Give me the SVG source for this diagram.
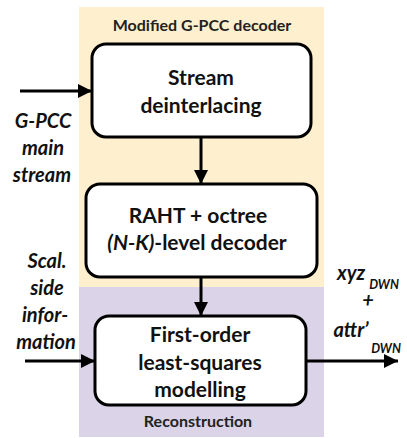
<svg xmlns="http://www.w3.org/2000/svg" width="407" height="438" viewBox="0 0 407 438">
<defs>
<style>
.box{fill:#fff;stroke:#000;stroke-width:3}
.t{font-family:Lato,"Open Sans","Liberation Sans",sans-serif;font-weight:700;font-size:21px;fill:#111;text-anchor:middle}
.lab{font-family:Lato,"Open Sans","Liberation Sans",sans-serif;font-weight:700;font-style:italic;font-size:20px;fill:#111;text-anchor:middle}
.sub{font-size:12.5px}
.hdr{font-family:Lato,"Open Sans","Liberation Sans",sans-serif;font-weight:700;font-size:16px;fill:#222;text-anchor:middle}
.ln{stroke:#000;stroke-width:3;fill:none}
</style>
<marker id="ah" markerUnits="userSpaceOnUse" markerWidth="16" markerHeight="14" refX="14" refY="7" orient="auto">
<path d="M0,0 L14,7 L0,14 Z" fill="#000"/>
</marker>
</defs>
<g id="bg-decoder"><rect x="79" y="7" width="245" height="280" fill="#FEF0CF"/><text class="hdr" x="202" y="31">Modified G-PCC decoder</text></g>
<g id="bg-reconstruction"><rect x="79" y="287" width="245" height="150" fill="#DBD3E7"/><text class="hdr" x="198" y="427">Reconstruction</text></g>
<g id="connectors">
<line class="ln" x1="20" y1="91" x2="92" y2="91" marker-end="url(#ah)"/>
<line class="ln" x1="201" y1="137" x2="201" y2="184" marker-end="url(#ah)"/>
<line class="ln" x1="201" y1="277" x2="201" y2="316" marker-end="url(#ah)"/>
<line class="ln" x1="25" y1="361" x2="95" y2="361" marker-end="url(#ah)"/>
<line class="ln" x1="306" y1="361" x2="398" y2="361" marker-end="url(#ah)"/>
</g>
<g id="stream-deinterlacing"><rect class="box" x="92" y="44" width="219" height="93" rx="14"/><text class="t" x="201" y="85">Stream</text><text class="t" x="201" y="113">deinterlacing</text></g>
<g id="raht-decoder"><rect class="box" x="86" y="184" width="231" height="93" rx="14"/><text class="t" x="198" y="223">RAHT + octree</text><text class="t" x="197" y="250"><tspan font-style="italic">(N-K)</tspan>-level decoder</text></g>
<g id="least-squares"><rect class="box" x="95" y="316" width="211" height="89" rx="14"/><text class="t" x="200" y="342">First-order</text><text class="t" x="200" y="370">least-squares</text><text class="t" x="200" y="397">modelling</text></g>
<g id="label-main"><text class="lab" x="43" y="128">G-PCC</text><text class="lab" x="43" y="155">main</text><text class="lab" x="42" y="182">stream</text></g>
<g id="label-side"><text class="lab" x="47" y="268">Scal.</text><text class="lab" x="47" y="295">side</text><text class="lab" x="45" y="322">infor-</text><text class="lab" x="46" y="349">mation</text></g>
<g id="label-out"><text class="lab" x="351" y="280">xyz</text><text class="lab sub" x="384" y="289">DWN</text><text class="lab" x="368" y="307">+</text><text class="lab" x="351" y="337">attr’</text><text class="lab sub" x="386" y="353">DWN</text></g>
</svg>
